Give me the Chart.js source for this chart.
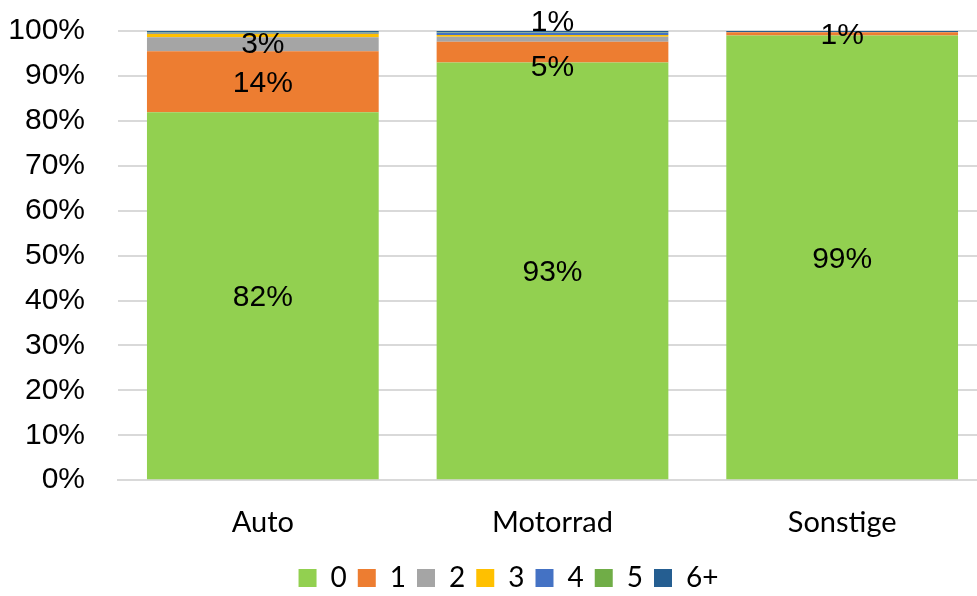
<!DOCTYPE html>
<html>
<head>
<meta charset="utf-8">
<script src="https://cdn.jsdelivr.net/npm/chart.js@4"></script>
<style>
  html, body { margin: 0; padding: 0; background: #fff; overflow: hidden; }
  #wrap { width: 1000px; height: 602px; }
</style>
</head>
<body>
<div id="wrap"><canvas id="chart" width="1000" height="602"></canvas></div>
<script>
// ── Data ──────────────────────────────────────────────────
const categories = ["Auto", "Motorrad", "Sonstige"];
const seriesNames = ["0", "1", "2", "3", "4", "5", "6+"];
const yTicks = [0, 10, 20, 30, 40, 50, 60, 70, 80, 90, 100];

const share0 = [81.9, 93.0, 99.0];
const share1 = [13.6, 4.6, 0.7];
const share2 = [3.1, 1.1, 0.1];
const share3 = [0.8, 0.4, 0.0];
const share4 = [0.2, 0.5, 0.0];
const share5 = [0.1, 0.1, 0.0];
const share6 = [0.3, 0.3, 0.2];

// labels shown on the bars (null = no label)
const labels0 = ["82%", "93%", "99%"];
const labels1 = ["14%", "5%", "1%"];
const labels2 = ["3%", "1%", null];

const colors = ["#92D050", "#ED7D31", "#A5A5A5", "#FFC000", "#4472C4", "#70AD47", "#255E91"];

// ── Helpers ───────────────────────────────────────────────
const allShares = [share0, share1, share2, share3, share4, share5, share6];
const allLabels = [labels0, labels1, labels2];
// vertical nudge of a few labels, as in the original
const labelNudge = [[2, 2, 2], [2, 16, 2], [0, -17, 0]];

const barLabels = {
  id: "barLabels",
  afterDatasetsDraw(chart) {
    const ctx = chart.ctx;
    ctx.save();
    ctx.font = "30px 'Liberation Sans', Arial, sans-serif";
    ctx.fillStyle = "#000";
    ctx.textAlign = "center";
    ctx.textBaseline = "middle";
    allLabels.forEach((labs, di) => {
      const meta = chart.getDatasetMeta(di);
      labs.forEach((txt, i) => {
        if (!txt) return;
        const el = meta.data[i];
        const cy = (el.y + el.base) / 2 + labelNudge[di][i];
        ctx.fillText(txt, el.x, cy);
      });
    });
    ctx.restore();
  },
};

// legend sits a little right of the canvas centre in the original
const legendShift = {
  id: "legendShift",
  afterLayout(chart) {
    chart.legend.left += 15;
    chart.legend.right += 15;
  },
};

// ── Chart ─────────────────────────────────────────────────
new Chart(document.getElementById("chart"), {
  type: "bar",
  data: {
    labels: categories,
    datasets: seriesNames.map((name, i) => ({
      label: name,
      data: allShares[i],
      backgroundColor: colors[i],
      borderWidth: 0,
      barPercentage: 0.8,
      categoryPercentage: 1,
    })),
  },
  options: {
    responsive: false,
    animation: false,
    layout: { padding: { left: 0, right: 13, top: 31, bottom: 0 } },
    plugins: {
      tooltip: { enabled: false },
      legend: {
        position: "bottom",
        labels: {
          font: { family: "Lato, 'Open Sans', sans-serif", size: 28 },
          color: "#000",
          boxWidth: 18,
          boxHeight: 18,
          padding: 11,
          useBorderRadius: false,
        },
      },
    },
    scales: {
      x: {
        stacked: true,
        afterFit: (s) => { s.height -= 12; },
        grid: { display: false, drawTicks: false },
        border: { display: true, color: "#d9d9d9", width: 2 },
        ticks: {
          color: "#000",
          padding: 25,
          font: { family: "Lato, 'Open Sans', sans-serif", size: 29 },
        },
      },
      y: {
        stacked: true,
        min: 0,
        max: 100,
        afterBuildTicks: (s) => { s.ticks = yTicks.map((v) => ({ value: v })); },
        afterFit: (s) => { s.width = 118; s.paddingTop = 0; s.paddingBottom = 0; },
        grid: { color: "#d9d9d9", lineWidth: 2, drawTicks: false },
        border: { display: false },
        ticks: {
          color: "#000",
          padding: 33,
          font: { family: "'Liberation Sans', Arial, sans-serif", size: 30 },
          callback: (v) => v + "%",
        },
      },
    },
  },
  plugins: [barLabels, legendShift],
});
</script>
</body>
</html>
